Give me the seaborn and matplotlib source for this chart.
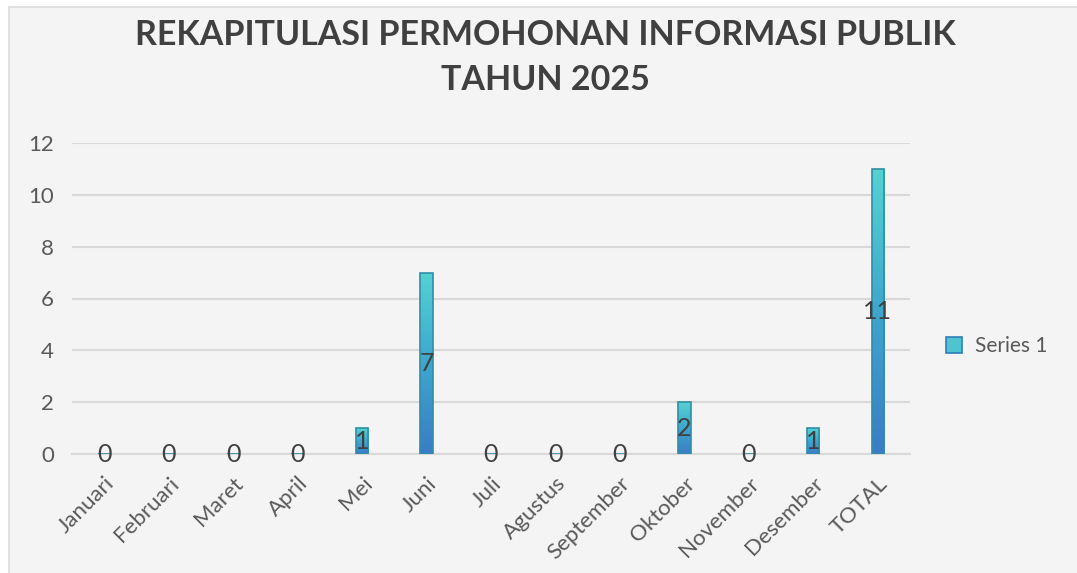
import numpy as np
import pandas as pd
import matplotlib
matplotlib.use('Agg')
import matplotlib.pyplot as plt
import seaborn as sns
from matplotlib.patches import Rectangle, Patch
from matplotlib.colors import LinearSegmentedColormap

months = ["Januari", "Februari", "Maret", "April", "Mei", "Juni", "Juli",
          "Agustus", "September", "Oktober", "November", "Desember", "TOTAL"]
requests = [0, 0, 0, 0, 1, 7, 0, 0, 0, 2, 0, 1, 11]
series_name = "Series 1"
title_lines = ["REKAPITULASI PERMOHONAN INFORMASI PUBLIK", "TAHUN 2025"]

df = pd.DataFrame({"bulan": months, "jumlah": requests})

sns.set_style("white")
plt.rcParams['font.family'] = ['Lato', 'DejaVu Sans']

bg = "#f4f4f4"
grid_c = "#d9d9d9"
fig = plt.figure(figsize=(10.77, 5.73), dpi=100, facecolor="white")
fig.patches.append(Rectangle((9 / 1077, -0.1), 1.2, 1.1 - 7 / 573, transform=fig.transFigure,
                             facecolor=bg, edgecolor="#dcdcdc", linewidth=1.2, zorder=-10))

ax = fig.add_axes([72 / 1077, 1 - 454 / 573, (910 - 72) / 1077, (454 - 143) / 573])
ax.set_facecolor(bg)
ax.patch.set_alpha(0)

sns.barplot(data=df, x="bulan", y="jumlah", width=0.19, color="#4fcfcf",
            edgecolor="#2f8fa8", linewidth=1.2, ax=ax, zorder=3)

# gradient fill inside each bar
cmap = LinearSegmentedColormap.from_list("bar", ["#3a7cc6", "#3fa6cc", "#55d2d2"])
grad = np.linspace(0, 1, 256).reshape(-1, 1)
for p in ax.patches:
    h = p.get_height()
    if h <= 0:
        continue
    x0 = p.get_x()
    im = ax.imshow(grad, cmap=cmap, origin="lower", aspect="auto",
                   extent=[x0, x0 + p.get_width(), 0, h], zorder=2.5)
    im.set_clip_path(p)
    p.set_facecolor("none")
    p.set_zorder(4)

ax.set_xlim(-0.5, len(months) - 0.5)
ax.set_ylim(0, 12)
ax.set_yticks(range(0, 13, 2))
ax.yaxis.grid(True, color=grid_c, linewidth=1.5, zorder=0)
ax.set_axisbelow(True)
for s in ["left", "right", "top"]:
    ax.spines[s].set_visible(False)
ax.spines["bottom"].set_color(grid_c)
ax.spines["bottom"].set_linewidth(1.5)
ax.spines["bottom"].set_zorder(1)

ax.set_xlabel("")
ax.set_ylabel("")
ax.tick_params(axis="y", length=0, labelsize=16, labelcolor="#595959", pad=13)
ax.set_xticks(np.arange(len(months)))
ax.set_xticklabels(months, rotation=45, ha="right", rotation_mode="anchor")
ax.tick_params(axis="x", length=0, labelsize=16, labelcolor="#595959", pad=14)
ax.set_xticks(np.arange(-0.5, len(months)), minor=True)
ax.tick_params(axis="x", which="minor", length=8, width=1.5, color=grid_c, direction="out")

for i, v in enumerate(requests):
    ax.text(i, v / 2, str(v), ha="center", va="center", fontsize=18,
            color="#404040", zorder=6)

leg = ax.legend(handles=[Patch(facecolor="#4fc4d0", edgecolor="#2f7fb8", linewidth=1.2)],
                labels=[series_name], loc="center left", bbox_to_anchor=(1.02, 0.347),
                frameon=False, fontsize=15, handlelength=0.8, handleheight=0.8,
                handletextpad=0.6)
for t in leg.get_texts():
    t.set_color("#595959")

fig.text(545 / 1077, 1 - 35 / 573, title_lines[0], ha="center", va="center",
         fontsize=24.5, fontweight="bold", color="#404040")
fig.text(545 / 1077, 1 - 80 / 573, title_lines[1], ha="center", va="center",
         fontsize=24.5, fontweight="bold", color="#404040")

fig.savefig("out.png", dpi=100, facecolor="white")
